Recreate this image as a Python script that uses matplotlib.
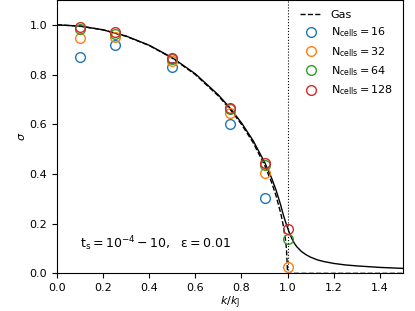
import numpy as np
import matplotlib
matplotlib.use("Agg")
import matplotlib.pyplot as plt

# simulation points, sigma vs k/kJ
k_sim = [0.1, 0.25, 0.5, 0.75, 0.9, 1.0]
sig_16 = [0.872, 0.920, 0.830, 0.600, 0.305, np.nan]
sig_32 = [0.949, 0.952, 0.855, 0.645, 0.405, 0.025]
sig_64 = [0.984, 0.963, 0.864, 0.660, 0.435, 0.140]
sig_128 = [0.993, 0.971, 0.868, 0.665, 0.445, 0.180]

# gas-only curve
k_gas = [0.0, 0.1, 0.2, 0.3, 0.4, 0.5, 0.6, 0.7, 0.75, 0.8, 0.85, 0.9, 0.93, 0.95,
         0.97, 0.98, 0.99, 0.995, 1.0, 1.5]
sig_gas = [1.0, 0.995, 0.98, 0.954, 0.917, 0.866, 0.80, 0.714, 0.661, 0.60, 0.527,
           0.436, 0.368, 0.312, 0.243, 0.199, 0.141, 0.10, 0.0, 0.0]

# dust+gas curve
k_dust = [0.0, 0.1, 0.2, 0.3, 0.4, 0.5, 0.6, 0.7, 0.75, 0.8, 0.85, 0.9, 0.93, 0.95,
          0.97, 0.98, 0.99, 1.0, 1.01, 1.02, 1.03, 1.04, 1.06, 1.08, 1.1, 1.13,
          1.16, 1.2, 1.25, 1.3, 1.4, 1.5]
sig_dust = [1.0, 0.995, 0.98, 0.955, 0.918, 0.868, 0.803, 0.718, 0.666, 0.606, 0.535,
            0.448, 0.385, 0.335, 0.275, 0.24, 0.21, 0.183, 0.158, 0.137, 0.12, 0.107,
            0.088, 0.075, 0.065, 0.054, 0.047, 0.040, 0.034, 0.030, 0.024, 0.020]

plt.rcParams["font.size"] = 8
plt.rcParams["mathtext.fontset"] = "dejavusans"

fig = plt.figure(figsize=(4.15, 3.11), dpi=100)
ax = fig.add_axes([0.137, 0.121, 0.834, 0.879])

ax.plot(k_gas, sig_gas, "k--", lw=1, label="Gas")
ax.plot(k_dust, sig_dust, "k-", lw=1)
ax.axvline(1.0, color="k", ls=":", lw=0.8)

for sig, n, c in [(sig_16, 16, "C0"), (sig_32, 32, "C1"),
                  (sig_64, 64, "C2"), (sig_128, 128, "C3")]:
    ax.plot(k_sim, sig, "o", mfc="none", mec=c, ms=7, mew=1,
            label=r"$\mathrm{N_{cells} = %d}$" % n)

ax.text(0.1, 0.12, r"$\mathrm{t_s = 10^{-4} - 10,\ \ \varepsilon = 0.01}$",
        fontsize=9, va="center")

ax.set_xlim(0, 1.5)
ax.set_ylim(0, 1.1)
ax.set_xlabel(r"$k/k_{\rm J}$", labelpad=1)
ax.set_ylabel(r"$\sigma$", labelpad=2)
ax.legend(loc="upper right", frameon=False, fontsize=8)

fig.savefig("out.png", dpi=100)
